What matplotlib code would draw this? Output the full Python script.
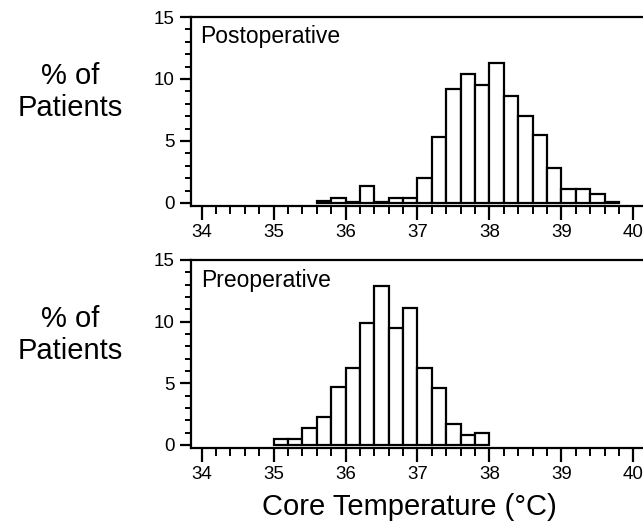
import matplotlib
matplotlib.use("Agg")
import matplotlib.pyplot as plt
from matplotlib.ticker import MultipleLocator

plt.rcParams['font.family'] = ['Liberation Sans', 'DejaVu Sans']

# Data: bin left edges (°C) and % of patients, bin width 0.2 °C
bin_width = 0.2
post_edges = [35.6, 35.8, 36.0, 36.2, 36.4, 36.6, 36.8, 37.0, 37.2, 37.4, 37.6,
              37.8, 38.0, 38.2, 38.4, 38.6, 38.8, 39.0, 39.2, 39.4, 39.6]
post_pct = [0.15, 0.43, 0.1, 1.35, 0.1, 0.42, 0.42, 2.0, 5.35, 9.2, 10.4,
            9.5, 11.25, 8.6, 7.05, 5.45, 2.85, 1.15, 1.15, 0.68, 0.1]

pre_edges = [35.0, 35.2, 35.4, 35.6, 35.8, 36.0, 36.2, 36.4, 36.6, 36.8,
             37.0, 37.2, 37.4, 37.6, 37.8]
pre_pct = [0.48, 0.48, 1.35, 2.25, 4.66, 6.27, 9.9, 12.86, 9.5, 11.1,
           6.2, 4.6, 1.7, 0.8, 0.98]

xticks = [34, 35, 36, 37, 38, 39, 40]
yticks = [0, 5, 10, 15]
panel_titles = ["Postoperative", "Preoperative"]
ylabel_lines = ["% of", "Patients"]
xlabel = "Core Temperature (\u00b0C)"

W, H = 643, 521
fig = plt.figure(figsize=(W / 100, H / 100), dpi=100)

def px(x, y):
    return x / W, 1 - y / H

ax1 = fig.add_axes([190.7 / W, 1 - 206 / H, 1 - 190.7 / W, (206 - 17) / H])
ax2 = fig.add_axes([190.7 / W, 1 - 448 / H, 1 - 190.7 / W, (448 - 260) / H])

for ax, edges, vals in [(ax1, post_edges, post_pct), (ax2, pre_edges, pre_pct)]:
    ax.bar(edges, vals, width=bin_width, align='edge', color='white',
           edgecolor='black', linewidth=1.6, zorder=2)
    ax.set_xlim(33.847, 40.135)
    ax.set_ylim(-0.25, 15)
    ax.set_xticks(xticks)
    ax.set_xticklabels([str(t) for t in xticks])
    ax.xaxis.set_minor_locator(MultipleLocator(0.2))
    ax.set_yticks(yticks)
    ax.set_yticklabels([str(t) for t in yticks])
    ax.yaxis.set_minor_locator(MultipleLocator(1))
    ax.spines['right'].set_visible(False)
    for s in ['left', 'bottom', 'top']:
        ax.spines[s].set_linewidth(1.6)
    ax.tick_params(axis='x', which='major', direction='out', length=10, width=1.6,
                   labelsize=13.5, pad=3)
    ax.tick_params(axis='x', which='minor', direction='out', length=6, width=1.4)
    ax.tick_params(axis='y', which='major', direction='out', length=8, width=1.6,
                   labelsize=13.5, pad=3.5)
    ax.tick_params(axis='y', which='minor', direction='out', length=4, width=1.4)

fig.text(*px(200, 43), panel_titles[0], fontsize=16.5, ha='left', va='baseline')
fig.text(*px(201.5, 287), panel_titles[1], fontsize=16.5, ha='left', va='baseline')

for base in [(84, 116), (327, 359)]:
    fig.text(*px(70, base[0]), ylabel_lines[0], fontsize=21, ha='center', va='baseline')
    fig.text(*px(70, base[1]), ylabel_lines[1], fontsize=21, ha='center', va='baseline')

fig.text(*px(409, 515), xlabel, fontsize=21, ha='center', va='baseline')

fig.savefig("out.png", dpi=100)
